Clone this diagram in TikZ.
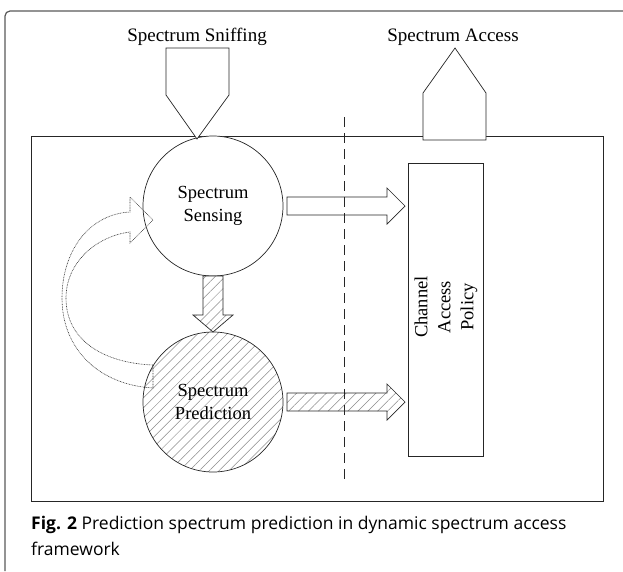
\documentclass[tikz,border=0pt]{standalone}
\usepackage{fontspec}
\setmainfont{Liberation Serif}
\newfontfamily\capfont{Open Sans}
\usetikzlibrary{patterns.meta}
\tikzset{
  ln/.style={draw=black!85, line width=0.7pt},
  hatch/.style={pattern={Lines[angle=45,distance=7pt,line width=0.5pt]}, pattern color=black!45},
  lbl/.style={font=\fontsize{19}{21}\selectfont, inner sep=0pt},
  circ/.style={ln, circle, minimum size=140pt, inner sep=0pt, align=center, font=\fontsize{18.5}{23}\selectfont},
  dots/.style={draw=black!80, line width=0.6pt, dash pattern=on 0.8pt off 0.8pt},
  captxt/.style={anchor=base west, inner sep=0pt, font=\capfont\fontsize{17.5}{26}\selectfont},
}
\begin{document}
\begin{tikzpicture}[x=1pt,y=-1pt]
\useasboundingbox (0,0) rectangle (623,571);
% outer frame
\draw[draw=black!65, line width=1.2pt, rounded corners=5pt] (623,11) -- (5,11) -- (5,571);
% inner frame
\draw[ln] (31,136) rectangle (603,501);
% top labels
\node[lbl] (sniff) at (197,37) {Spectrum Sniffing};
\node[lbl] (access) at (453,37) {Spectrum Access};
% circles
\node[circ, fill=white] (sens) at (213,206) {Spectrum\\Sensing};
\fill[white] (213,402) circle (70pt);
\fill[hatch] (213,402) circle (70pt);
\node[circ] (pred) at (213,402) {Spectrum\\Prediction};
% sniffing pentagon
\draw[ln, fill=white] (166,48) -- (229,48) -- (229,95) -- (197,139) -- (166,95) -- cycle;
% access pentagon
\draw[ln, fill=white] (423,140) -- (423,93) -- (455,48) -- (486,93) -- (486,140) -- cycle;
% channel access policy
\node[ln, rectangle, minimum width=75pt, minimum height=293pt, inner sep=0pt] (cap) at (445.5,309.5) {};
\node[rotate=90, align=center, font=\fontsize{18.5}{23}\selectfont] (captext) at (446,307) {Channel\\Access\\Policy};
% sensing -> policy arrow
\draw[ln, fill=white] (287,197) -- (387,197) -- (387,188) -- (405,206) -- (387,224) -- (387,215) -- (287,215) -- cycle;
% prediction -> policy arrow
\path[fill=white] (287,393) -- (387,393) -- (387,384) -- (405,402) -- (387,420) -- (387,411) -- (287,411) -- cycle;
\draw[ln, hatch] (287,393) -- (387,393) -- (387,384) -- (405,402) -- (387,420) -- (387,411) -- (287,411) -- cycle;
% sensing -> prediction arrow
\path[fill=white] (203,276) -- (203,315) -- (193,315) -- (213,332) -- (233,315) -- (223,315) -- (223,276) -- cycle;
\draw[ln, hatch] (203,276) -- (203,315) -- (193,315) -- (213,332) -- (233,315) -- (223,315) -- (223,276) -- cycle;
% dashed divider
\coordinate (dtop) at (344,117);
\coordinate (dbot) at (344,482);
\draw[draw=black!85, line width=0.8pt, dash pattern=on 10pt off 6pt] (dtop) -- (dbot);
% curved feedback arrow
\draw[dots] (153,365) -- (153,388)
  .. controls (100,385) and (62,350) .. (62,298)
  .. controls (62,250) and (90,214) .. (130,212)
  -- (130,197) -- (153,220) -- (130,243) -- (130,232)
  .. controls (97,236) and (66,262) .. (66,298)
  .. controls (66,340) and (103,363) .. (153,365);
% caption
\node[captxt] (caption1) at (31,529) {\textbf{Fig. 2} Prediction spectrum prediction in dynamic spectrum access};
\node[captxt] (caption2) at (31,555) {framework};
\end{tikzpicture}
\end{document}
